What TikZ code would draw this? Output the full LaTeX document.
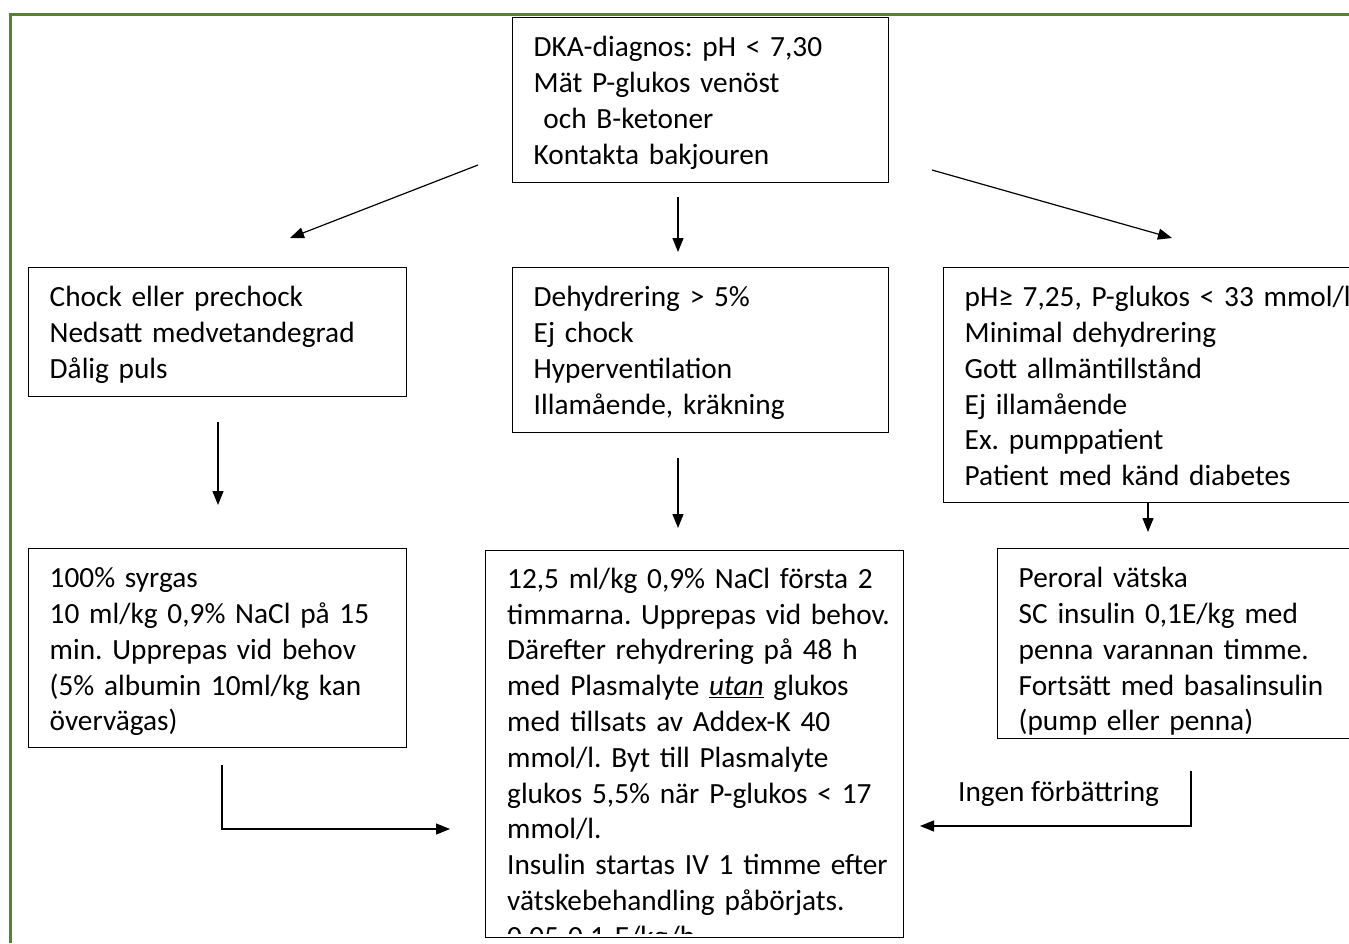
\documentclass[tikz,border=0pt]{standalone}
\usepackage{fontspec}
\setmainfont{Carlito}
\frenchspacing
\usetikzlibrary{arrows.meta}
\definecolor{framegreen}{RGB}{84,130,53}

\begin{document}
\begin{tikzpicture}[x=1pt,y=-1pt,>={Triangle[length=14pt,width=11pt]}]
\tikzset{ txt/.style={font=\fontsize{29.3}{35.8}\selectfont},
          box/.style={txt, draw, line width=1.4pt, anchor=north west, align=left,
                      inner xsep=21pt, inner ysep=0pt,
                      text height=39pt, text depth=\dimexpr#1pt-39pt\relax},
          link/.style={->, line width=1.2pt} };

\useasboundingbox (0,0) rectangle (1349,943);
\draw[framegreen, line width=3pt] (10,943) -- (10,14) -- (1349,14);

\node[box=165, minimum width=376, text width=334] (diag) at (512,17)
  {DKA-diagnos: pH < 7,30\\ Mät P-glukos venöst\\ \ och B-ketoner\\ Kontakta bakjouren};

\node[box=129, minimum width=378, text width=336] (chock) at (28,267)
  {Chock eller prechock\\ Nedsatt medvetandegrad\\ Dålig puls};
\node[box=165, minimum width=376, text width=334] (dehyd) at (512,267)
  {Dehydrering > 5\%\\ Ej chock\\ Hyperventilation\\ Illamående, kräkning};
\node[box=235, minimum width=430, text width=388] (mild) at (943,267)
  {pH≥ 7,25, P-glukos < 33 mmol/l\\ Minimal dehydrering\\ Gott allmäntillstånd\\
   Ej illamående\\ Ex. pumppatient\\ Patient med känd diabetes};

\node[box=199, minimum width=378, text width=336] (syrgas) at (28,548)
  {100\% syrgas\\ 10 ml/kg 0,9\% NaCl på 15\\ min. Upprepas vid behov\\
   (5\% albumin 10ml/kg kan\\ övervägas)};
\node[box=387, minimum width=418] (rehyd) at (485,550) {};
\node[box=190, minimum width=380, text width=338] (peroral) at (997,548)
  {Peroral vätska\\ SC insulin 0,1E/kg med\\ penna varannan timme.\\
   Fortsätt med basalinsulin\\ (pump eller penna)};

% text of the long box runs past its lower edge
\begin{scope}
\clip (rehyd.north west) rectangle ([yshift=5pt]rehyd.south east);
\node[txt, anchor=north west, align=left, inner sep=0pt, text width=390,
      text height=38pt] (rehydtext) at ([xshift=22pt]rehyd.north west)
  {12,5 ml/kg 0,9\% NaCl första 2\\ timmarna. Upprepas vid behov.\\
   Därefter rehydrering på 48 h\\ med Plasmalyte \underline{\textit{utan}} glukos\\
   med tillsats av Addex-K 40\\ mmol/l. Byt till Plasmalyte\\
   glukos 5,5\% när P-glukos < 17\\ mmol/l.\\
   Insulin startas IV 1 timme efter\\ vätskebehandling påbörjats.\\
   0,05-0,1 E/kg/h};
\end{scope}

\node[txt, anchor=west, inner sep=0pt] (ingen) at (958,794) {Ingen förbättring};

\coordinate (l1a) at (478,165);  \coordinate (l1b) at (290,238);
\coordinate (l2a) at (678,197);  \coordinate (l2b) at (678,252);
\coordinate (l3a) at (932,170);  \coordinate (l3b) at (1172,238);
\coordinate (l4a) at (218,422);  \coordinate (l4b) at (218,505);
\coordinate (l5a) at (678,458);  \coordinate (l5b) at (678,528);
\coordinate (l6a) at (1148,502); \coordinate (l6b) at (1148,532);
\coordinate (l7a) at (222,765);  \coordinate (l7b) at (450,829);
\coordinate (l8a) at (1191,771); \coordinate (l8b) at (920,826);

\draw[link] (l1a) -- (l1b);
\draw[link] (l2a) -- (l2b);
\draw[link] (l3a) -- (l3b);
\draw[link] (l4a) -- (l4b);
\draw[link] (l5a) -- (l5b);
\draw[link] (l6a) -- (l6b);
\draw[link] (l7a) |- (l7b);
\draw[link] (l8a) |- (l8b);

\end{tikzpicture}
\end{document}
